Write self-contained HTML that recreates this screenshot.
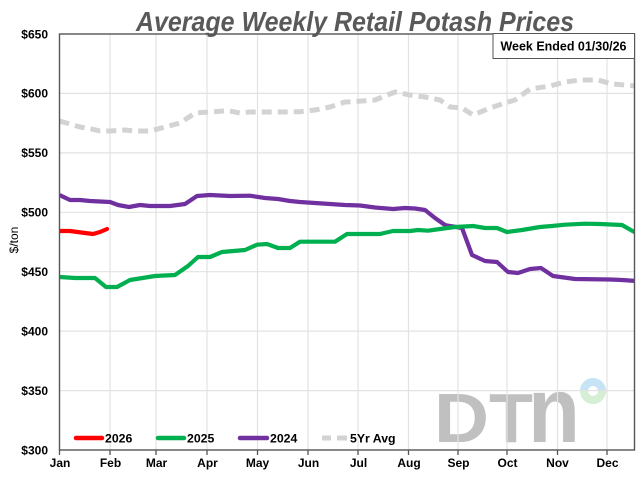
<!DOCTYPE html>
<html>
<head>
<meta charset="utf-8">
<style>
  html,body{margin:0;padding:0;background:#fff;}
  svg{display:block;}
  text{font-family:"Liberation Sans",Arial,sans-serif;}
</style>
</head>
<body>
<svg width="640" height="480" viewBox="0 0 640 480" xmlns="http://www.w3.org/2000/svg">
  <rect x="0" y="0" width="640" height="480" fill="#fff"/>

  <!-- Title -->
  <text x="355" y="31" text-anchor="middle" font-size="28" font-weight="bold" font-style="italic" fill="#595959" textLength="438" lengthAdjust="spacingAndGlyphs">Average Weekly Retail Potash Prices</text>

  <!-- DTN logo (behind gridlines) -->
  <g fill="#c0c0c0" font-weight="bold">
    <text x="434" y="442" font-size="70" textLength="55" lengthAdjust="spacingAndGlyphs">D</text>
    <text x="489" y="442" font-size="70" textLength="44" lengthAdjust="spacingAndGlyphs">T</text>
    <text transform="translate(528,442) scale(1,1.32)" font-size="70" textLength="52" lengthAdjust="spacingAndGlyphs">n</text>
  </g>
  <path d="M584,391 A9,9 0 0 1 602,391" fill="none" stroke="#c6e4f4" stroke-width="8"/>
  <path d="M602,391 A9,9 0 0 1 584,391" fill="none" stroke="#d6eed3" stroke-width="8"/>

  <!-- Gridlines -->
  <g stroke="#e2e2e2" stroke-width="1.2">
    <line x1="59.5" y1="93.4" x2="634.5" y2="93.4"/>
    <line x1="59.5" y1="152.9" x2="634.5" y2="152.9"/>
    <line x1="59.5" y1="212.3" x2="634.5" y2="212.3"/>
    <line x1="59.5" y1="271.7" x2="634.5" y2="271.7"/>
    <line x1="59.5" y1="331.1" x2="634.5" y2="331.1"/>
    <line x1="59.5" y1="390.6" x2="634.5" y2="390.6"/>
    <line x1="110" y1="34" x2="110" y2="450"/>
    <line x1="156" y1="34" x2="156" y2="450"/>
    <line x1="207" y1="34" x2="207" y2="450"/>
    <line x1="257.5" y1="34" x2="257.5" y2="450"/>
    <line x1="308" y1="34" x2="308" y2="450"/>
    <line x1="358" y1="34" x2="358" y2="450"/>
    <line x1="408.5" y1="34" x2="408.5" y2="450"/>
    <line x1="458" y1="34" x2="458" y2="450"/>
    <line x1="507" y1="34" x2="507" y2="450"/>
    <line x1="557.5" y1="34" x2="557.5" y2="450"/>
    <line x1="607" y1="34" x2="607" y2="450"/>
  </g>

  <defs>
    <clipPath id="plot"><rect x="59.5" y="34" width="575" height="416"/></clipPath>
  </defs>

  <g clip-path="url(#plot)" fill="none" stroke-linejoin="round">
    <!-- 5Yr Avg -->
    <polyline stroke="#d3d3d3" stroke-width="5" stroke-dasharray="10 6" points="59.5,121 70,124 80,127 90,128.7 100,131 110,131 125,130 135,131 150,131 165,127 180,123 195,113 210,112 228,110.7 240,113 250,112 275,112 300,111.7 315,110 330,107 345,102 355,101.5 375,100 395,92 410,95 425,97 440,100 450,107 462,108 473,115 490,108 505,103 515,100 530,89 550,86 565,82 580,80 598,80 612,84 625,85 636,86"/>
    <!-- 2024 -->
    <polyline stroke="#7030a0" stroke-width="4.2" points="59.5,195 70,200 80,200 90,201 110,202 118,205 129,207 140,205 150,206 170,206 185,204 197,196 210,195 230,196 250,195.7 265,198 278,199 290,201 300,202 315,203 330,204 345,205 360,205.5 375,207.5 393,209 405,208 415,208.5 425,210 435,218 445,225 450,226 462,228 472,255 485,261 497,262 508,272 518,273 530,269 541,268 553,276 575,279 610,279.5 622,280 636,281"/>
    <!-- 2025 -->
    <polyline stroke="#00b050" stroke-width="4.2" points="59.5,277 75,278 95,278 106,287 117,287 130,280 155,276 175,275 188,266 198,257 210,257 222,252 245,250 257,244.7 267,244 278,248 290,248 300,241.7 335,241.7 347,234 380,234 393,231 410,231 418,230 428,230.7 440,229 455,227 473,226 485,228 497,228 507,232 522,230 540,227 552,226 565,224.7 585,223.7 600,224 622,225 636,233"/>
    <!-- 2026 -->
    <polyline stroke="#ff0000" stroke-width="4.2" stroke-linecap="round" points="59.5,231 70,231 85,233 93,234 100,232 107,229"/>
  </g>

  <!-- Frame -->
  <rect x="59.5" y="34" width="575" height="416" fill="none" stroke="#555" stroke-width="1.4"/>

  <!-- X ticks -->
  <g stroke="#555" stroke-width="1.3">
    <line x1="59.5" y1="450" x2="59.5" y2="455"/>
    <line x1="110" y1="450" x2="110" y2="455"/>
    <line x1="156" y1="450" x2="156" y2="455"/>
    <line x1="207" y1="450" x2="207" y2="455"/>
    <line x1="257.5" y1="450" x2="257.5" y2="455"/>
    <line x1="308" y1="450" x2="308" y2="455"/>
    <line x1="358" y1="450" x2="358" y2="455"/>
    <line x1="408.5" y1="450" x2="408.5" y2="455"/>
    <line x1="458" y1="450" x2="458" y2="455"/>
    <line x1="507" y1="450" x2="507" y2="455"/>
    <line x1="557.5" y1="450" x2="557.5" y2="455"/>
    <line x1="607" y1="450" x2="607" y2="455"/>
  </g>

  <!-- Y labels -->
  <g font-size="12" font-weight="bold" fill="#000" text-anchor="end">
    <text x="48" y="38.3">$650</text>
    <text x="48" y="97.7">$600</text>
    <text x="48" y="157.2">$550</text>
    <text x="48" y="216.6">$500</text>
    <text x="48" y="276">$450</text>
    <text x="48" y="335.4">$400</text>
    <text x="48" y="394.9">$350</text>
    <text x="48" y="454.3">$300</text>
  </g>

  <!-- X labels -->
  <g font-size="12" font-weight="bold" fill="#000" text-anchor="middle">
    <text x="60" y="467">Jan</text>
    <text x="110.5" y="467">Feb</text>
    <text x="156.5" y="467">Mar</text>
    <text x="207.5" y="467">Apr</text>
    <text x="257.5" y="467">May</text>
    <text x="308.5" y="467">Jun</text>
    <text x="358.5" y="467">Jul</text>
    <text x="409" y="467">Aug</text>
    <text x="458.5" y="467">Sep</text>
    <text x="507.5" y="467">Oct</text>
    <text x="557.5" y="467">Nov</text>
    <text x="607.5" y="467">Dec</text>
  </g>

  <!-- Y axis title -->
  <text transform="translate(18,240) rotate(-90)" text-anchor="middle" font-size="12" fill="#000">$/ton</text>

  <!-- Week ended box -->
  <rect x="493" y="33.5" width="141.5" height="25" fill="#fff" stroke="#555" stroke-width="1"/>
  <text x="500.5" y="50.5" font-size="12.5" font-weight="bold" fill="#000" textLength="126" lengthAdjust="spacingAndGlyphs">Week Ended 01/30/26</text>

  <!-- Bottom legend -->
  <g stroke-width="4.5" stroke-linecap="round">
    <line x1="76" y1="438" x2="102" y2="438" stroke="#ff0000"/>
    <line x1="158" y1="438" x2="184" y2="438" stroke="#00b050"/>
    <line x1="240" y1="438" x2="267" y2="438" stroke="#7030a0"/>
  </g>
  <g stroke-width="5" stroke="#d3d3d3">
    <line x1="322" y1="438" x2="331" y2="438"/>
    <line x1="337" y1="438" x2="347" y2="438"/>
  </g>
  <g font-size="12.3" font-weight="bold" fill="#000">
    <text x="105" y="442.5">2026</text>
    <text x="187" y="442.5">2025</text>
    <text x="270" y="442.5">2024</text>
    <text x="350" y="442.5">5Yr Avg</text>
  </g>
</svg>
</body>
</html>
